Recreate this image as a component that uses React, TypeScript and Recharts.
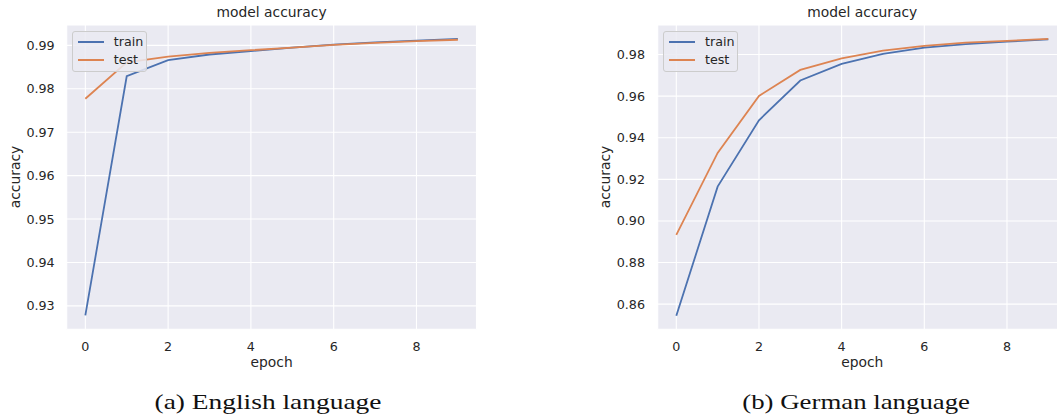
import React from 'react';
import { LineChart, Line, XAxis, YAxis, CartesianGrid, Legend } from 'recharts';

const epochs = [0, 1, 2, 3, 4, 5, 6, 7, 8, 9];
const englishTrain = [0.9278, 0.9829, 0.9866, 0.9879, 0.9887, 0.9895, 0.9902, 0.9907, 0.9911, 0.9915];
const englishTest = [0.9777, 0.9861, 0.9874, 0.9883, 0.9889, 0.9895, 0.9901, 0.9906, 0.991, 0.9913];
const germanTrain = [0.8544, 0.9165, 0.9484, 0.9675, 0.9755, 0.9803, 0.9833, 0.985, 0.9862, 0.9873];
const germanTest = [0.8933, 0.9327, 0.9601, 0.9726, 0.9781, 0.9819, 0.9842, 0.9857, 0.9866, 0.9875];

const xTicks = [0, 2, 4, 6, 8];
const englishYTicks = [0.93, 0.94, 0.95, 0.96, 0.97, 0.98, 0.99];
const germanYTicks = [0.86, 0.88, 0.9, 0.92, 0.94, 0.96, 0.98];

const seriesNames = ['train', 'test'];
const chartTitle = 'model accuracy';
const xLabel = 'epoch';
const yLabel = 'accuracy';
const captions = ['(a) English language', '(b) German language'];

const BLUE = '#4c72b0';
const ORANGE = '#dd8452';
const BG = '#eaeaf2';
const TXT = '#262626';
const FONT = '"DejaVu Sans", sans-serif';

const build = (train: number[], test: number[]) =>
  epochs.map((e, i) => ({ epoch: e, train: train[i], test: test[i] }));

const englishData = build(englishTrain, englishTest);
const germanData = build(germanTrain, germanTest);

const renderLegend = (props: any) => {
  const raw = props.payload || [];
  const payload = seriesNames
    .map((n) => raw.find((p: any) => p.value === n))
    .filter(Boolean);
  return (
    <div
      style={{
        position: 'relative',
        width: 75,
        height: 41,
        boxSizing: 'border-box',
        border: '1px solid #cccccc',
        borderRadius: 3,
        background: 'rgba(234,234,242,0.85)',
        fontFamily: FONT,
        fontSize: 12.7,
        color: TXT,
      }}
    >
      {payload.map((p: any, i: number) => (
        <div key={p.value} style={{ position: 'absolute', left: 0, top: i * 18.3, height: 20, width: 75 }}>
          <div style={{ position: 'absolute', left: 4.7, top: 9.1, width: 26, height: 1.8, background: p.color }} />
          <div style={{ position: 'absolute', left: 40.7, top: 2, lineHeight: '16px', whiteSpace: 'nowrap' }}>{p.value}</div>
        </div>
      ))}
    </div>
  );
};

type PanelProps = {
  data: any[];
  left: number;
  width: number;
  yAxisWidth: number;
  rightMargin: number;
  domain: [number, number];
  yTicks: number[];
  tickMargin: number;
  legendLeft: number;
};

const Panel = ({ data, left, width, yAxisWidth, rightMargin, domain, yTicks, tickMargin, legendLeft }: PanelProps) => (
  <div style={{ position: 'absolute', left, top: 0 }}>
    <LineChart width={width} height={417} data={data} margin={{ top: 25, right: rightMargin, left: 0, bottom: 57.7 }}>
      <CartesianGrid fill={BG} stroke="#ffffff" strokeWidth={1.1} />
      <XAxis
        dataKey="epoch"
        type="number"
        domain={[-0.45, 9.45]}
        ticks={xTicks}
        axisLine={false}
        tickLine={false}
        tickMargin={7}
        height={30}
        allowDataOverflow
        tick={{ fill: TXT, fontSize: 12.7, fontFamily: FONT }}
      />
      <YAxis
        type="number"
        domain={domain}
        ticks={yTicks}
        axisLine={false}
        tickLine={false}
        tickMargin={tickMargin}
        width={yAxisWidth}
        allowDataOverflow
        tickFormatter={(v: number) => v.toFixed(2)}
        tick={{ fill: TXT, fontSize: 12.7, fontFamily: FONT }}
      />
      <Legend
        layout="vertical"
        align="center"
        verticalAlign="middle"
        content={renderLegend}
        wrapperStyle={{ left: legendLeft, top: 30.7, width: 75, height: 41 }}
      />
      <Line dataKey="train" name={seriesNames[0]} stroke={BLUE} strokeWidth={1.8} dot={false} isAnimationActive={false} />
      <Line dataKey="test" name={seriesNames[1]} stroke={ORANGE} strokeWidth={1.8} dot={false} isAnimationActive={false} />
    </LineChart>
  </div>
);

export default function App() {
  return (
    <div style={{ position: 'absolute', left: 0, top: 0, width: 1057, height: 417, overflow: 'hidden', background: '#ffffff' }}>
      <Panel
        data={englishData}
        left={0}
        width={540}
        yAxisWidth={66.7}
        rightMargin={63.5}
        domain={[0.9246, 0.9947]}
        yTicks={englishYTicks}
        tickMargin={6}
        legendLeft={72}
      />
      <Panel
        data={germanData}
        left={580}
        width={500}
        yAxisWidth={77.7}
        rightMargin={13.1}
        domain={[0.8479, 0.9942]}
        yTicks={germanYTicks}
        tickMargin={6.7}
        legendLeft={83.3}
      />
      <svg width={1057} height={417} style={{ position: 'absolute', left: 0, top: 0, pointerEvents: 'none' }}>
        <g fontFamily={FONT} fill={TXT} fontSize={13.85} textAnchor="middle">
          <text x={271.6} y={17}>{chartTitle}</text>
          <text x={862.3} y={17}>{chartTitle}</text>
          <text x={271.6} y={367}>{xLabel}</text>
          <text x={862.3} y={367}>{xLabel}</text>
          <text x={19.7} y={177} transform="rotate(-90 19.7 177)">{yLabel}</text>
          <text x={610.3} y={177} transform="rotate(-90 610.3 177)">{yLabel}</text>
        </g>
        <g fontFamily='"Liberation Serif", "DejaVu Serif", serif' fill="#111111" fontSize={21.5}>
          <text x={154.5} y={409} textLength={227} lengthAdjust="spacingAndGlyphs">{captions[0]}</text>
          <text x={742.3} y={409} textLength={227.7} lengthAdjust="spacingAndGlyphs">{captions[1]}</text>
        </g>
      </svg>
    </div>
  );
}
